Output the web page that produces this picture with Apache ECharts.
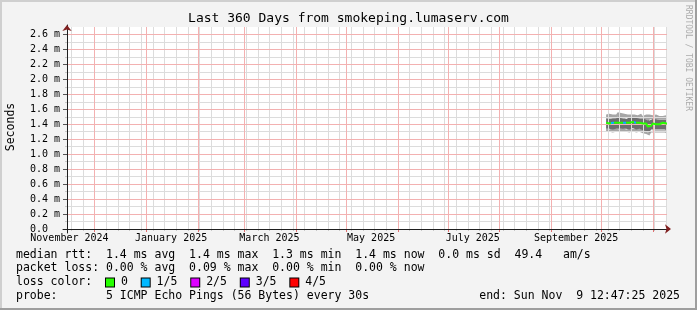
<!DOCTYPE html>
<html>
<head>
<meta charset="utf-8">
<script src="https://cdn.jsdelivr.net/npm/echarts@6/dist/echarts.min.js"></script>
<style>
html,body{margin:0;padding:0;background:#f3f3f3;}
#chart{width:697px;height:310px;}
</style>
</head>
<body>
<div id="chart"></div>
<script>
// ---------- data ----------
const DAY = 86400000;
const graphStart = Date.UTC(2024, 10, 14, 12, 47, 25);
const graphEnd = Date.UTC(2025, 10, 9, 12, 47, 25);
const firstSampleDay = Date.UTC(2025, 9, 4); // one sample per day, Oct 4 .. Nov 9 2025

// round-trip times in ms (sorted pings: min, 2nd, median, 4th, max)
const pingMin = [1.30,1.29,1.30,1.31,1.29,1.30,1.30,1.29,1.30,1.31,1.30,1.29,1.30,1.30,1.29,1.30,1.31,1.30,1.29,1.30,1.30,1.29,1.28,1.29,1.27,1.25,1.27,1.29,1.28,1.29,1.28,1.29,1.28,1.29,1.28,1.29,1.28];
const ping2   = [1.34,1.33,1.34,1.35,1.33,1.34,1.34,1.33,1.34,1.35,1.34,1.33,1.34,1.34,1.33,1.34,1.35,1.34,1.33,1.34,1.34,1.33,1.32,1.33,1.31,1.29,1.31,1.33,1.32,1.33,1.32,1.33,1.32,1.33,1.32,1.33,1.32];
const median  = [1.42,1.41,1.43,1.42,1.41,1.42,1.43,1.42,1.41,1.42,1.43,1.42,1.41,1.42,1.42,1.43,1.41,1.42,1.41,1.42,1.43,1.41,1.40,1.41,1.39,1.37,1.38,1.40,1.41,1.40,1.41,1.40,1.41,1.42,1.40,1.41,1.41];
const ping4   = [1.48,1.47,1.49,1.48,1.47,1.48,1.49,1.50,1.49,1.48,1.49,1.47,1.48,1.49,1.48,1.49,1.48,1.49,1.47,1.48,1.49,1.47,1.46,1.47,1.46,1.45,1.46,1.47,1.46,1.47,1.46,1.46,1.47,1.46,1.45,1.46,1.46];
const pingMax = [1.53,1.54,1.52,1.53,1.55,1.53,1.54,1.56,1.55,1.53,1.54,1.52,1.53,1.54,1.53,1.55,1.53,1.54,1.52,1.53,1.54,1.52,1.51,1.53,1.52,1.53,1.51,1.52,1.51,1.53,1.52,1.51,1.52,1.51,1.50,1.52,1.51];
// lost pings (out of 5) per sample
const lossCount = [0,0,0,1,1,0,0,0,0,0,1,1,0,0,0,0,0,1,0,0,0,0,0,0,0,0,0,0,0,0,0,0,0,0,0,0,0];

const lossColors = ['#26ff00', '#00b8ff', '#dd00ff', '#5e00ff', '#ff0000'];
const lossLabels = ['0', '1/5', '2/5', '3/5', '4/5'];

const yMajorTicks = [0, 0.2, 0.4, 0.6, 0.8, 1.0, 1.2, 1.4, 1.6, 1.8, 2.0, 2.2, 2.4, 2.6];
const yMinorTicks = [0.1, 0.3, 0.5, 0.7, 0.9, 1.1, 1.3, 1.5, 1.7, 1.9, 2.1, 2.3, 2.5];
const yMax = 2.7;

const xLabelTexts = ['November 2024', 'January 2025', 'March 2025', 'May 2025', 'July 2025', 'September 2025'];
const xLabelDates = [Date.UTC(2024,10,16), Date.UTC(2025,0,16), Date.UTC(2025,2,16), Date.UTC(2025,4,16), Date.UTC(2025,6,16), Date.UTC(2025,8,16)];

const titleText = 'Last 360 Days from smokeping.lumaserv.com';
const legendLines = [
  'median rtt:  1.4 ms avg  1.4 ms max  1.3 ms min  1.4 ms now  0.0 ms sd  49.4   am/s',
  'packet loss: 0.00 % avg  0.09 % max  0.00 % min  0.00 % now',
  'probe:       5 ICMP Echo Pings (56 Bytes) every 30s'
];
const endText = 'end: Sun Nov  9 12:47:25 2025';

// ---------- derived (grid positions, series data) ----------
const monthLines = [];
for (let k = 0; k < 13; k++) {
  const t = Date.UTC(2024, 11 + k, 1);
  if (t > graphStart && t < graphEnd) monthLines.push(t);
}
const weekLines = [];
{
  const d = new Date(graphStart);
  let t = Date.UTC(d.getUTCFullYear(), d.getUTCMonth(), d.getUTCDate());
  while (new Date(t).getUTCDay() !== 0 || t < graphStart) t += DAY;
  for (; t < graphEnd; t += 7 * DAY) if (monthLines.indexOf(t) < 0) weekLines.push(t);
}

const sampleTimes = median.map((_, i) => firstSampleDay + i * DAY);
function withEnd(vals) {
  const d = vals.map((v, i) => [sampleTimes[i], v]);
  d.push([graphEnd, vals[vals.length - 1]]);
  return d;
}
const band1 = pingMin.map((v, i) => ping2[i] - v);
const band2 = ping2.map((v, i) => ping4[i] - v);
const band3 = ping4.map((v, i) => pingMax[i] - v);

const lossPieces = lossCount.map((l, i) => ({
  gte: sampleTimes[i],
  lt: i + 1 < sampleTimes.length ? sampleTimes[i + 1] : graphEnd + 1,
  color: lossColors[l]
}));

// ---------- chart ----------
const MONO = 'DejaVu Sans Mono';
const chart = echarts.init(document.getElementById('chart'), null, {renderer: 'canvas'});

const hiddenAxis = {axisLine:{show:false}, axisTick:{show:false}, axisLabel:{show:false}, splitLine:{show:false}};
const P = {left: 67, top: 27, width: 600, height: 202};

const smokeOuter = '#a6a6a6';
const smokeInner = '#6e6e6e';
const minorGrid = '#dcdcdc';
const majorGrid = '#f3b1b1';

function smoke(name, data, color) {
  return {
    name, type: 'line', xAxisIndex: 0, yAxisIndex: 0, stack: 'smoke', step: 'end',
    symbol: 'none', data, silent: true,
    lineStyle: {width: 0, opacity: 0},
    areaStyle: color ? {color, opacity: 1} : {opacity: 0},
    z: 2
  };
}

const option = {
  backgroundColor: '#f3f3f3',
  animation: false,
  grid: [
    {left: P.left, top: P.top, width: P.width, height: P.height, show: true, backgroundColor: '#ffffff', borderWidth: 0},
    {left: P.left - 4, top: P.top, width: P.width + 6, height: P.height},     // x axis line extension
    {left: P.left, top: P.top - 2, width: P.width, height: P.height + 6},     // y axis line extension
    {left: P.left - 4, top: P.top, width: P.width + 8, height: P.height},     // x arrow
    {left: P.left, top: P.top - 2, width: P.width, height: P.height + 2}      // y arrow
  ],
  xAxis: [
    // 0: data axis (time)
    Object.assign({gridIndex: 0, type: 'time', position: 'bottom', min: graphStart, max: graphEnd}, hiddenAxis),
    // 1: weekly minor grid
    {gridIndex: 0, type: 'value', position: 'bottom', min: graphStart, max: graphEnd, z: 3,
     axisLine: {show: false}, axisLabel: {show: false},
     axisTick: {show: true, customValues: weekLines, length: 2, lineStyle: {color: '#c8c8c8'}},
     splitLine: {show: true, lineStyle: {color: minorGrid, width: 1, type: 'solid'}}},
    // 2: monthly major grid
    {gridIndex: 0, type: 'value', position: 'bottom', min: graphStart, max: graphEnd, z: 4,
     axisLine: {show: false}, axisLabel: {show: false},
     axisTick: {show: true, customValues: monthLines, length: 3, lineStyle: {color: '#e07070'}},
     splitLine: {show: true, lineStyle: {color: majorGrid, width: 1, type: 'solid'}}},
    // 3: labels
    {gridIndex: 0, type: 'value', position: 'bottom', min: graphStart, max: graphEnd, z: 4,
     axisLine: {show: false}, splitLine: {show: false},
     axisTick: {show: false, customValues: xLabelDates},
     axisLabel: {show: true, customValues: xLabelDates, margin: 4, fontFamily: MONO, fontSize: 10, color: '#000',
       formatter: v => { const i = xLabelDates.indexOf(v); return i >= 0 ? xLabelTexts[i] : ''; }}},
    Object.assign({gridIndex: 1, type: 'value', position: 'bottom', min: 0, max: 1}, hiddenAxis,
      {axisLine: {show: true, lineStyle: {color: '#1f1f1f', width: 1}}, z: 5}),
    Object.assign({gridIndex: 2, type: 'value', position: 'bottom', min: 0, max: 1}, hiddenAxis),
    Object.assign({gridIndex: 3, type: 'value', position: 'bottom', min: 0, max: 1}, hiddenAxis,
      {axisLine: {show: true, symbol: ['none', 'arrow'], symbolSize: [7, 6], lineStyle: {color: '#801f1f', width: 0}}, z: 6}),
    Object.assign({gridIndex: 4, type: 'value', position: 'bottom', min: 0, max: 1}, hiddenAxis)
  ],
  yAxis: [
    // 0: data axis + minor grid
    {gridIndex: 0, type: 'value', position: 'left', min: 0, max: yMax, z: 3,
     axisLine: {show: false}, axisLabel: {show: false},
     axisTick: {show: true, customValues: yMinorTicks, length: 2, lineStyle: {color: '#c8c8c8'}},
     splitLine: {show: true, lineStyle: {color: minorGrid, width: 1, type: 'solid'}}},
    // 1: major grid + labels
    {gridIndex: 0, type: 'value', position: 'left', min: 0, max: yMax, z: 4,
     axisLine: {show: false},
     axisTick: {show: true, customValues: yMajorTicks, length: 4, lineStyle: {color: '#555'}},
     axisLabel: {show: true, customValues: yMajorTicks, margin: 7, fontFamily: MONO, fontSize: 10, color: '#000',
       formatter: v => v === 0 ? '0.0  ' : v.toFixed(1) + ' m'},
     splitLine: {show: true, lineStyle: {color: majorGrid, width: 1, type: 'solid'}}},
    Object.assign({gridIndex: 1, type: 'value', position: 'left', min: 0, max: 1}, hiddenAxis),
    Object.assign({gridIndex: 2, type: 'value', position: 'left', min: 0, max: 1}, hiddenAxis,
      {axisLine: {show: true, lineStyle: {color: '#1f1f1f', width: 1}}, z: 5}),
    Object.assign({gridIndex: 3, type: 'value', position: 'left', min: 0, max: 1}, hiddenAxis),
    Object.assign({gridIndex: 4, type: 'value', position: 'left', min: 0, max: 1}, hiddenAxis,
      {axisLine: {show: true, symbol: ['none', 'arrow'], symbolSize: [7, 6], lineStyle: {color: '#801f1f', width: 0}}, z: 6})
  ],
  visualMap: [{
    show: false, type: 'piecewise', seriesIndex: 4, dimension: 0,
    pieces: lossPieces, outOfRange: {color: lossColors[0]}
  }],
  series: [
    smoke('base', withEnd(pingMin), null),
    smoke('outer low', withEnd(band1), smokeOuter),
    smoke('inner', withEnd(band2), smokeInner),
    smoke('outer high', withEnd(band3), smokeOuter),
    {name: 'median rtt', type: 'line', xAxisIndex: 0, yAxisIndex: 0, step: 'end', symbol: 'none',
     data: withEnd(median), lineStyle: {width: 2}, z: 6, silent: true}
  ],
  graphic: [
    {type: 'text', x: 348.5, y: 19, z: 50, style: {text: titleText, font: '13px "' + MONO + '"', fill: '#000', align: 'center', verticalAlign: 'middle'}},
    {type: 'text', x: 11, y: 127, rotation: Math.PI / 2, z: 50, style: {text: 'Seconds', font: '11.5px "' + MONO + '"', fill: '#000', align: 'center', verticalAlign: 'middle'}},
    {type: 'text', x: 688, y: 5, rotation: -Math.PI / 2, z: 50, style: {text: 'RRDTOOL / TOBI OETIKER', font: '8px "' + MONO + '"', fill: '#ababab', align: 'left', verticalAlign: 'middle'}},
    {type: 'text', x: 16, y: 255, z: 50, style: {text: legendLines[0], font: '11.5px "' + MONO + '"', fill: '#000', align: 'left', verticalAlign: 'middle'}},
    {type: 'text', x: 16, y: 268.5, z: 50, style: {text: legendLines[1], font: '11.5px "' + MONO + '"', fill: '#000', align: 'left', verticalAlign: 'middle'}},
    {type: 'text', x: 16, y: 282.5, z: 50, style: {
      text: 'loss color:  ' + lossLabels.map((l, i) => '{c' + i + '|}' + ' ' + l).join('  '),
      font: '11.5px "' + MONO + '"', fill: '#000', align: 'left', verticalAlign: 'middle',
      rich: Object.fromEntries(lossColors.map((c, i) => ['c' + i, {width: 8, height: 8, backgroundColor: c, borderColor: '#000', borderWidth: 1, verticalAlign: 'middle'}]))
    }},
    {type: 'text', x: 16, y: 296, z: 50, style: {text: legendLines[2], font: '11.5px "' + MONO + '"', fill: '#000', align: 'left', verticalAlign: 'middle'}},
    {type: 'text', x: 680, y: 296, z: 50, style: {text: endText, font: '11.5px "' + MONO + '"', fill: '#000', align: 'right', verticalAlign: 'middle'}},
    // 3D frame
    {type: 'rect', z: 60, shape: {x: 0, y: 0, width: 697, height: 2}, style: {fill: '#cfcfcf'}},
    {type: 'rect', z: 60, shape: {x: 0, y: 0, width: 2, height: 310}, style: {fill: '#cfcfcf'}},
    {type: 'rect', z: 61, shape: {x: 0, y: 308, width: 697, height: 2}, style: {fill: '#9e9e9e'}},
    {type: 'rect', z: 61, shape: {x: 695, y: 0, width: 2, height: 310}, style: {fill: '#9e9e9e'}}
  ]
};
chart.setOption(option);
</script>
</body>
</html>
